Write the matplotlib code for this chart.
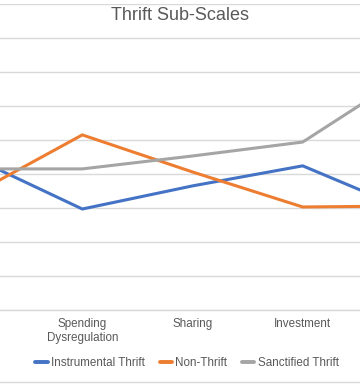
import matplotlib
matplotlib.use("Agg")
import matplotlib.pyplot as plt

categories = ["Saving", "Spending\nDysregulation", "Sharing", "Investment", "Frugality"]
instrumental = [4.50, 2.97, 3.65, 4.24, 2.88]
non_thrift = [3.38, 5.15, 4.06, 3.03, 3.06]
sanctified = [4.15, 4.15, 4.53, 4.94, 7.03]
series_names = ["Instrumental Thrift", "Non-Thrift", "Sanctified Thrift"]
colors = ["#4472C4", "#ED7D31", "#A5A5A5"]
title = "Thrift Sub-Scales"

plt.rcParams['font.family'] = ['Liberation Sans', 'DejaVu Sans']

W, H = 360, 385
fig = plt.figure(figsize=(W / 100, H / 100), dpi=100)
ax_left, ax_right = -83, 468
ax_bottom, ax_top = 310, 4
ax = fig.add_axes([ax_left / W, 1 - ax_bottom / H, (ax_right - ax_left) / W, (ax_bottom - ax_top) / H])

x = list(range(len(categories)))
for vals, name, c in zip([instrumental, non_thrift, sanctified], series_names, colors):
    ax.plot(x, vals, color=c, lw=2.2, label=name, solid_capstyle='round', zorder=3)

ax.set_xlim(-0.5, len(categories) - 0.5)
ax.set_ylim(0, 9)
ax.set_yticks(range(0, 10))
ax.yaxis.grid(True, color="#D9D9D9", lw=1)
ax.set_axisbelow(True)
for s in ["left", "right", "top"]:
    ax.spines[s].set_visible(False)
ax.spines["bottom"].set_color("#D9D9D9")
ax.spines["bottom"].set_linewidth(1)
ax.set_xticks(x)
ax.set_xticklabels(categories, fontsize=8.4, color="#595959", linespacing=1.2)
ax.tick_params(axis="x", length=0, pad=6)
ax.tick_params(axis="y", length=0, labelleft=False)

# the first and last category labels lie outside the visible (cropped) area
fig.canvas.draw()
r = fig.canvas.get_renderer()
for lab in ax.get_xticklabels():
    bb = lab.get_window_extent(r)
    if bb.x0 < 0 or bb.x1 > W:
        lab.set_visible(False)

fig.text(180 / W, 1 - 15 / H, title, ha="center", va="center", fontsize=13, color="#595959")

leg = fig.legend(loc="center", bbox_to_anchor=(187 / W, 1 - 363 / H), ncol=3, frameon=False,
                 fontsize=8.4, handlelength=1.05, handletextpad=0.3, columnspacing=1.25,
                 labelcolor="#595959")
for line in leg.get_lines():
    line.set_linewidth(2.8)

fig.add_artist(plt.Line2D([0, 1], [1 - 382 / H, 1 - 382 / H], transform=fig.transFigure, color="#D9D9D9", lw=1))

fig.savefig("out.png", dpi=100)
